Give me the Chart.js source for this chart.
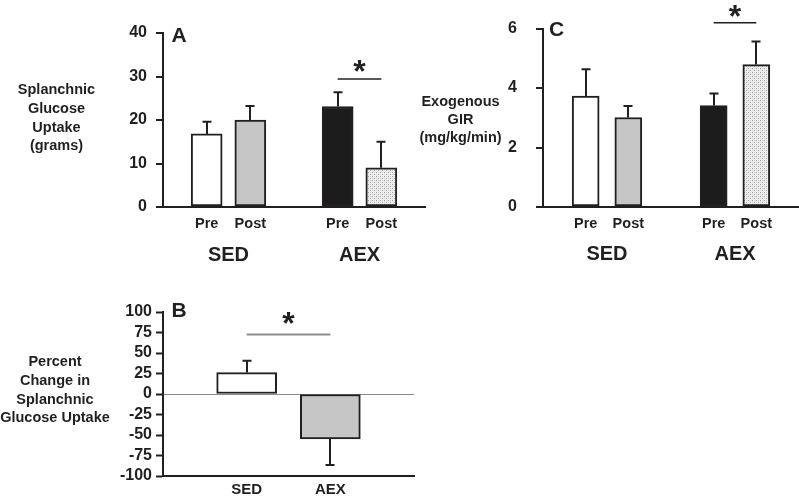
<!DOCTYPE html>
<html><head><meta charset="utf-8">
<script src="https://cdn.jsdelivr.net/npm/chart.js@4/dist/chart.umd.min.js"></script>
<style>
html,body{margin:0;padding:0;background:#fff;overflow:hidden;width:799px;height:496px;position:relative;}
canvas{position:absolute;}
#cA{left:0;top:0}
#cC{left:400px;top:0}
#cB{left:0;top:285px}
</style></head><body>
<canvas id="cA" width="440" height="275"></canvas>
<canvas id="cC" width="415" height="275"></canvas>
<canvas id="cB" width="440" height="211"></canvas>
<script>
// ---------- data ----------
const groups = ['SED', 'AEX'];
const phases = ['Pre', 'Post'];
// order: SED Pre, SED Post, AEX Pre, AEX Post
const uptakeGrams = [16.8, 20.0, 23.1, 9.0];
const uptakeSem   = [2.8, 3.2, 3.3, 6.0];
const uptakeTicks = [0, 10, 20, 30, 40];
const girValues   = [3.73, 3.01, 3.41, 4.79];
const girSem      = [0.90, 0.39, 0.41, 0.78];
const girTicks    = [0, 2, 4, 6];
// panel B: SED, AEX
const pctValues   = [26.1, -54.7];
const pctSem      = [14.5, 32.0];
const pctTicks    = [-100, -75, -50, -25, 0, 25, 50, 75, 100];

const titleA = ['Splanchnic', 'Glucose', 'Uptake', '(grams)'];
const titleB = ['Percent', 'Change in', 'Splanchnic', 'Glucose Uptake'];
const titleC = ['Exogenous', 'GIR', '(mg/kg/min)'];

// ---------- styling ----------
const INK = '#231f20';
const FONT = "'Liberation Sans', Arial, Helvetica, sans-serif";

function dotPattern() {
  const c = document.createElement('canvas');
  c.width = 4; c.height = 4;
  const g = c.getContext('2d');
  g.fillStyle = '#efefef'; g.fillRect(0, 0, 4, 4);
  g.fillStyle = '#a2a2a2';
  g.fillRect(0, 0, 1, 1); g.fillRect(2, 2, 1, 1);
  g.fillStyle = '#cfcfcf';
  g.fillRect(2, 0, 1, 1); g.fillRect(0, 2, 1, 1);
  return g.createPattern(c, 'repeat');
}
const DOTS = dotPattern();

// 7 slots: gap, Pre, Post, gap, Pre, Post, gap
const slotLabels = ['', phases[0], phases[1], '', phases[0], phases[1], ''];
const slot = a => [null, a[0], a[1], null, a[2], a[3], null];
const slotFills = ['transparent', '#ffffff', '#c6c6c6', 'transparent', '#1c1c1c', DOTS, 'transparent'];

function overlay(o) {
  return {
    id: 'overlay',
    afterDraw(chart) {
      const ctx = chart.ctx, xs = chart.scales.x, ys = chart.scales.y;
      const data = chart.data.datasets[0].data;
      ctx.save();
      // error bars
      ctx.strokeStyle = INK; ctx.lineWidth = 2; ctx.lineCap = 'butt';
      data.forEach((v, i) => {
        if (v == null) return;
        const e = o.err[i];
        const px = Math.round(xs.getPixelForValue(i));
        const y0 = ys.getPixelForValue(v);
        const y1 = ys.getPixelForValue(v + Math.sign(v) * e);
        ctx.beginPath();
        ctx.moveTo(px, y0); ctx.lineTo(px, y1);
        ctx.moveTo(px - o.cap / 2, y1); ctx.lineTo(px + o.cap / 2, y1);
        ctx.stroke();
      });
      // significance bar
      const s = o.sig;
      const sy = ys.getPixelForValue(s.value);
      ctx.strokeStyle = s.color; ctx.lineWidth = s.lw;
      ctx.beginPath();
      ctx.moveTo(xs.getPixelForValue(s.from), sy);
      ctx.lineTo(xs.getPixelForValue(s.to), sy);
      ctx.stroke();
      ctx.fillStyle = INK;
      ctx.textAlign = 'center'; ctx.textBaseline = 'alphabetic';
      ctx.font = 'bold 32px ' + FONT;
      const sx = (xs.getPixelForValue(s.from) + xs.getPixelForValue(s.to)) / 2;
      ctx.fillText('*', sx, sy - s.starDy + 18.3);
      // group labels
      if (o.groupLabels) {
        ctx.font = 'bold 20px ' + FONT;
        o.groupLabels.forEach(g => {
          const gx = (xs.getPixelForValue(g.from) + xs.getPixelForValue(g.to)) / 2;
          ctx.fillText(g.text, gx, o.groupY);
        });
      }
      // axis title (horizontal, multi-line)
      ctx.font = 'bold 14.5px ' + FONT;
      o.title.lines.forEach((t, i) => ctx.fillText(t, o.title.x, o.title.y + i * o.title.dy));
      // panel letter
      ctx.textAlign = 'left';
      ctx.font = 'bold 21px ' + FONT;
      ctx.fillText(o.letter.text, o.letter.x, o.letter.y);
      ctx.restore();
    }
  };
}

function makeChart(id, o) {
  return new Chart(document.getElementById(id), {
    type: 'bar',
    data: {
      labels: o.labels,
      datasets: [{
        data: o.data,
        backgroundColor: o.fills,
        borderColor: o.data.map(v => v == null ? 'transparent' : INK),
        borderWidth: 2,
        borderSkipped: false,
        barThickness: o.barW
      }]
    },
    options: {
      responsive: false, animation: false, devicePixelRatio: 1,
      layout: { padding: o.pad },
      plugins: { legend: { display: false }, tooltip: { enabled: false } },
      scales: {
        x: {
          type: 'category', offset: false,
          grid: { display: false, drawTicks: false },
          border: { display: true, color: INK, width: 2 },
          ticks: { autoSkip: false, maxRotation: 0, padding: o.xPad, color: INK,
                   font: { family: FONT, size: o.xFont, weight: 'bold' } },
          afterFit: s => { s.height = o.xH; }
        },
        y: {
          min: o.ticks[0], max: o.ticks[o.ticks.length - 1],
          afterBuildTicks: s => { s.ticks = o.ticks.map(v => ({ value: v })); },
          grid: o.yGrid,
          border: { display: true, color: INK, width: 2 },
          ticks: { autoSkip: false, padding: o.yPad, color: INK, font: { family: FONT, size: 16, weight: 'bold' } },
          afterFit: s => { s.width = o.yW; }
        }
      }
    },
    plugins: [overlay(o)]
  });
}

const tickGrid = { drawOnChartArea: false, drawTicks: true, tickLength: 7, color: INK, tickColor: INK, lineWidth: 2, tickWidth: 2 };

// Panel A
makeChart('cA', {
  labels: slotLabels, data: slot(uptakeGrams), err: slot(uptakeSem), fills: slotFills,
  barW: 31, cap: 9, ticks: uptakeTicks,
  pad: { top: 33, right: 15, left: 0, bottom: 0 }, yW: 163, xH: 68, xPad: 8, xFont: 14.5, yPad: 9,
  yGrid: tickGrid,
  sig: { from: 4, to: 5, value: 29.4, color: INK, lw: 1.5, starDy: 15 },
  groupLabels: [{ text: groups[0], from: 1, to: 2 }, { text: groups[1], from: 4, to: 5 }], groupY: 260.5,
  title: { lines: titleA, x: 56.5, y: 94.3, dy: 18.7 },
  letter: { text: 'A', x: 171.5, y: 41.7 }
});

// Panel C
makeChart('cC', {
  labels: slotLabels, data: slot(girValues), err: slot(girSem), fills: slotFills,
  barW: 27, cap: 9, ticks: girTicks,
  pad: { top: 27, right: 16, left: 0, bottom: 0 }, yW: 143, xH: 68, xPad: 8, xFont: 14.5, yPad: 19,
  yGrid: tickGrid,
  sig: { from: 4, to: 5, value: 6.2, color: INK, lw: 1.5, starDy: 14 },
  groupLabels: [{ text: groups[0], from: 1, to: 2 }, { text: groups[1], from: 4, to: 5 }], groupY: 260,
  title: { lines: titleC, x: 60.5, y: 106, dy: 18 },
  letter: { text: 'C', x: 149, y: 36 }
});

// Panel B
makeChart('cB', {
  labels: ['', groups[0], groups[1], ''], data: [null, pctValues[0], pctValues[1], null],
  err: [null, pctSem[0], pctSem[1], null],
  fills: ['transparent', '#ffffff', '#c6c6c6', 'transparent'],
  barW: 60, cap: 9, ticks: pctTicks,
  pad: { top: 27, right: 26, left: 0, bottom: 0 }, yW: 163, xH: 20, xPad: 5, xFont: 15, yPad: 4,
  yGrid: { drawOnChartArea: true, drawTicks: true, tickLength: 7,
           color: c => (c.tick && c.tick.value === 0) ? '#8a8a8a' : 'rgba(0,0,0,0)',
           tickColor: INK, lineWidth: 1, tickWidth: 2 },
  sig: { from: 1, to: 2, value: 72.6, color: '#8c8c8c', lw: 2, starDy: 19 },
  title: { lines: titleB, x: 55, y: 81, dy: 18.8 },
  letter: { text: 'B', x: 171.5, y: 31.7 }
});
</script>
</body></html>
